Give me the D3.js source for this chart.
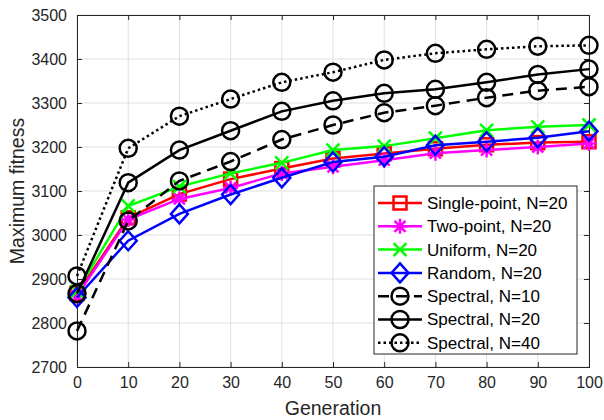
<!DOCTYPE html>
<html>
<head>
<meta charset="utf-8">
<script src="https://cdn.jsdelivr.net/npm/d3@7"></script>
<style>
  html, body { margin: 0; padding: 0; background: #fff; }
  svg { display: block; }
  text { font-family: "Liberation Sans", Arial, Helvetica, sans-serif; }
</style>
</head>
<body>
<svg id="chart" width="604" height="420"></svg>
<script>
// ---- data ----
const generations = [0, 10, 20, 30, 40, 50, 60, 70, 80, 90, 100];
const seriesNames = ["Single-point, N=20", "Two-point, N=20", "Uniform, N=20", "Random, N=20",
                     "Spectral, N=10", "Spectral, N=20", "Spectral, N=40"];
const singlePoint = [2867, 3039, 3093, 3127, 3151, 3174, 3185, 3196, 3205, 3210, 3212];
const twoPoint    = [2862, 3035, 3082, 3107, 3140, 3155, 3170, 3186, 3193, 3200, 3208];
const uniform     = [2872, 3066, 3110, 3140, 3164, 3193, 3202, 3220, 3238, 3246, 3250];
const randomX     = [2858, 2987, 3048, 3092, 3130, 3166, 3178, 3204, 3212, 3221, 3236];
const spectral10  = [2782, 3032, 3123, 3167, 3217, 3250, 3278, 3294, 3312, 3328, 3337];
const spectral20  = [2867, 3119, 3193, 3237, 3281, 3305, 3322, 3331, 3347, 3365, 3377];
const spectral40  = [2907, 3197, 3270, 3309, 3347, 3370, 3398, 3413, 3422, 3429, 3431];
const xTicks = [0, 10, 20, 30, 40, 50, 60, 70, 80, 90, 100];
const yTicks = [2700, 2800, 2900, 3000, 3100, 3200, 3300, 3400, 3500];

const seriesValues = [singlePoint, twoPoint, uniform, randomX, spectral10, spectral20, spectral40];
const seriesColors = ["#ff0000", "#ff00ff", "#00ff00", "#0000ff", "#000000", "#000000", "#000000"];
const seriesMarkers = ["square", "asterisk", "cross", "diamond", "circle", "circle", "circle"];
const seriesDash = [null, null, null, null, "11,7", null, "2.5,3"];

// ---- layout ----
const W = 604, H = 420;
const L = 77, R = 589, T = 15, B = 367;
const svg = d3.select("#chart");
const x = d3.scaleLinear().domain([0, 100]).range([L, R]);
const y = d3.scaleLinear().domain([2700, 3500]).range([B, T]);
const axisColor = "#262626";
const LW = 2.5;

// grid
const grid = svg.append("g");
grid.selectAll("line.gx").data(xTicks).enter().append("line")
  .attr("x1", d => x(d)).attr("x2", d => x(d)).attr("y1", T).attr("y2", B)
  .attr("stroke", "#e0e0e0").attr("stroke-width", 1);
grid.selectAll("line.gy").data(yTicks).enter().append("line")
  .attr("x1", L).attr("x2", R).attr("y1", d => y(d)).attr("y2", d => y(d))
  .attr("stroke", "#e0e0e0").attr("stroke-width", 1);

// axes (MATLAB-like ticks inward)
const tickLen = 5;
const xAxisB = d3.axisBottom(x).tickValues(xTicks).tickSize(-tickLen).tickPadding(10).tickFormat(d3.format("d"));
const xAxisT = d3.axisTop(x).tickValues(xTicks).tickSize(-tickLen).tickFormat("");
const yAxisL = d3.axisLeft(y).tickValues(yTicks).tickSize(-tickLen).tickPadding(10).tickFormat(d3.format("d"));
const yAxisR = d3.axisRight(y).tickValues(yTicks).tickSize(-tickLen).tickFormat("");

function styleAxis(g) {
  g.select(".domain").attr("stroke", axisColor).attr("stroke-width", 1);
  g.selectAll(".tick line").attr("stroke", axisColor).attr("stroke-width", 1);
  g.selectAll(".tick text").attr("fill", axisColor).attr("font-size", 16)
    .attr("font-family", "'Liberation Sans', Arial, sans-serif");
}
svg.append("g").attr("transform", `translate(0,${B})`).call(xAxisB).call(styleAxis);
svg.append("g").attr("transform", `translate(0,${T})`).call(xAxisT).call(styleAxis);
svg.append("g").attr("transform", `translate(${L},0)`).call(yAxisL).call(styleAxis);
svg.append("g").attr("transform", `translate(${R},0)`).call(yAxisR).call(styleAxis);

// axis labels
svg.append("text").attr("x", (L + R) / 2).attr("y", 415).attr("text-anchor", "middle")
  .attr("font-size", 19.5).attr("fill", axisColor).text("Generation");
svg.append("text").attr("transform", `translate(24,${(T + B) / 2}) rotate(-90)`)
  .attr("text-anchor", "middle").attr("font-size", 19.5).attr("fill", axisColor).text("Maximum fitness");

// markers
function drawMarker(g, type, cx, cy, color) {
  const sw = LW;
  if (type === "square") {
    const s = 6.5;
    g.append("rect").attr("x", cx - s).attr("y", cy - s).attr("width", 2 * s).attr("height", 2 * s)
      .attr("fill", "none").attr("stroke", color).attr("stroke-width", sw);
  } else if (type === "circle") {
    g.append("circle").attr("cx", cx).attr("cy", cy).attr("r", 8.5)
      .attr("fill", "none").attr("stroke", color).attr("stroke-width", sw);
  } else if (type === "diamond") {
    const a = 8.5, b = 9.5;
    g.append("path").attr("d", `M${cx},${cy - b}L${cx + a},${cy}L${cx},${cy + b}L${cx - a},${cy}Z`)
      .attr("fill", "none").attr("stroke", color).attr("stroke-width", sw);
  } else if (type === "cross") {
    const s = 6.5;
    g.append("path").attr("d", `M${cx - s},${cy - s}L${cx + s},${cy + s}M${cx - s},${cy + s}L${cx + s},${cy - s}`)
      .attr("stroke", color).attr("stroke-width", sw);
  } else if (type === "asterisk") {
    const s = 7.5, d = 5.5;
    g.append("path").attr("d",
      `M${cx},${cy - s}L${cx},${cy + s}M${cx - s},${cy}L${cx + s},${cy}` +
      `M${cx - d},${cy - d}L${cx + d},${cy + d}M${cx - d},${cy + d}L${cx + d},${cy - d}`)
      .attr("stroke", color).attr("stroke-width", sw);
  }
}

// series
const line = d3.line().x(d => x(d[0])).y(d => y(d[1]));
const plotG = svg.append("g");
seriesValues.forEach((vals, i) => {
  const pts = generations.map((g, k) => [g, vals[k]]);
  const g = plotG.append("g");
  g.append("path").attr("d", line(pts)).attr("fill", "none")
    .attr("stroke", seriesColors[i]).attr("stroke-width", LW)
    .attr("stroke-dasharray", seriesDash[i]);
  pts.forEach(p => drawMarker(g, seriesMarkers[i], x(p[0]), y(p[1]), seriesColors[i]));
});

// legend
const lg = svg.append("g");
const lx = 374, ly = 186, lw = 203, lh = 168;
lg.append("rect").attr("x", lx).attr("y", ly).attr("width", lw).attr("height", lh)
  .attr("fill", "#fff").attr("stroke", axisColor).attr("stroke-width", 1);
const rowH = 23.3;
seriesNames.forEach((name, i) => {
  const cy = ly + 17 + i * rowH;
  lg.append("line").attr("x1", lx + 4).attr("x2", lx + 48).attr("y1", cy).attr("y2", cy)
    .attr("stroke", seriesColors[i]).attr("stroke-width", LW)
    .attr("stroke-dasharray", seriesDash[i]);
  drawMarker(lg, seriesMarkers[i], lx + 26, cy, seriesColors[i]);
  lg.append("text").attr("x", lx + 53).attr("y", cy).attr("dy", "0.35em")
    .attr("font-size", 17).attr("fill", "#000").text(name);
});
</script>
</body>
</html>
